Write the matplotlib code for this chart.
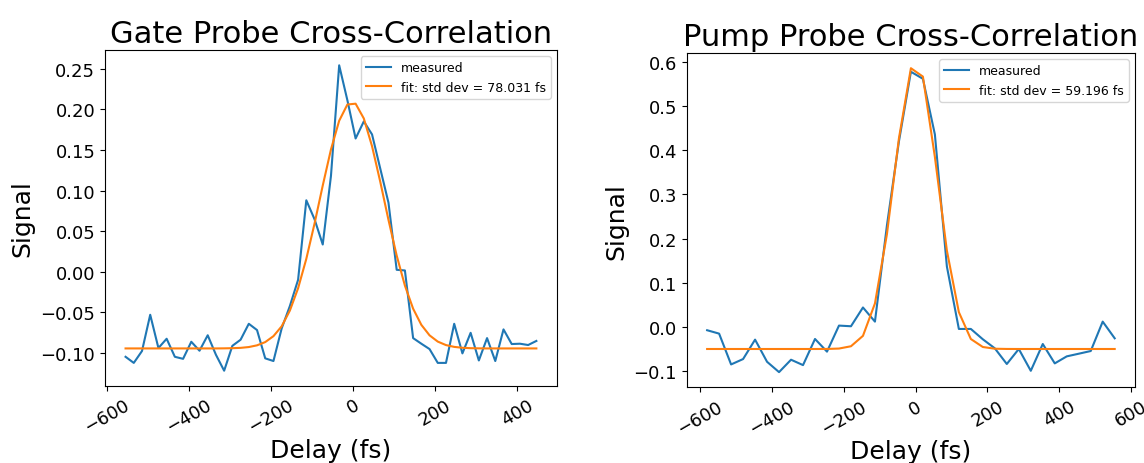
import matplotlib
matplotlib.use("Agg")
import matplotlib.pyplot as plt

# ---- Gate probe data ----
gate_delay = [-554, -534, -514, -494, -474, -454, -434, -414, -394, -374,
              -354, -334, -314, -294, -274, -254, -234, -214, -194, -174,
              -154, -134, -114, -94, -74, -54, -34, -14, 6, 26,
              46, 66, 86, 106, 126, 146, 166, 186, 206, 226,
              246, 266, 286, 306, 326, 346, 366, 386, 406, 426, 446]
gate_measured = [-0.1045, -0.112, -0.0974, -0.0528, -0.0937, -0.0823, -0.1045, -0.107, -0.086, -0.097,
                 -0.078, -0.102, -0.1216, -0.091, -0.0835, -0.0639, -0.0716, -0.1064, -0.1097, -0.0696,
                 -0.042, -0.0098, 0.088, 0.0647, 0.0336, 0.118, 0.254, 0.211, 0.164, 0.185,
                 0.169, 0.127, 0.085, 0.0025, 0.0017, -0.0815, -0.0884, -0.095, -0.112, -0.112,
                 -0.0639, -0.1003, -0.075, -0.109, -0.0815, -0.1097, -0.0708, -0.0888, -0.0884, -0.090, -0.085]
gate_fit = [-0.0942, -0.0942, -0.0942, -0.0942, -0.0942, -0.0942, -0.0942, -0.0942, -0.0942, -0.0942,
            -0.0942, -0.0942, -0.0941, -0.0939, -0.0935, -0.0925, -0.0904, -0.0864, -0.0791, -0.0670,
            -0.0476, -0.0202, 0.0160, 0.0593, 0.1061, 0.1505, 0.1858, 0.2058, 0.2068, 0.1886,
            0.1545, 0.1108, 0.0639, 0.0200, -0.0169, -0.0453, -0.0652, -0.0781, -0.0858, -0.0901,
            -0.0923, -0.0934, -0.0939, -0.0941, -0.0942, -0.0942, -0.0942, -0.0942, -0.0942, -0.0942, -0.0942]
gate_label = "fit: std dev = 78.031 fs"

# ---- Pump probe data ----
pump_delay = [-581.0, -547.6, -514.2, -480.8, -447.4, -414.0, -380.6, -347.2, -313.8, -280.4,
              -247.0, -213.6, -180.2, -146.8, -113.4, -80.0, -46.6, -13.2, 20.2, 53.6,
              87.0, 120.4, 153.8, 187.2, 220.6, 254.0, 287.4, 320.8, 354.2, 387.6,
              421.0, 454.4, 487.8, 521.2, 554.6]
pump_measured = [-0.0075, -0.0152, -0.085, -0.0728, -0.0288, -0.079, -0.1024, -0.0743, -0.0865, -0.0273,
                 -0.056, 0.003, 0.0015, 0.044, 0.012, 0.23, 0.42, 0.578, 0.562, 0.436,
                 0.137, -0.0046, -0.0046, -0.028, -0.0485, -0.084, -0.050, -0.0994, -0.0387, -0.0826,
                 -0.0667, -0.0607, -0.0546, 0.012, -0.0258]
pump_fit = [-0.0500, -0.0500, -0.0500, -0.0500, -0.0500, -0.0500, -0.0500, -0.0500, -0.0500, -0.0500,
            -0.0499, -0.0490, -0.0438, -0.0202, 0.0532, 0.2101, 0.427, 0.586, 0.567, 0.385,
            0.173, 0.0334, -0.0274, -0.0455, -0.0494, -0.0499, -0.0500, -0.0500, -0.0500, -0.0500,
            -0.0500, -0.0500, -0.0500, -0.0500, -0.0500]
pump_label = "fit: std dev = 59.196 fs"

fig = plt.figure(figsize=(11.44, 4.64), dpi=100)
ax1 = fig.add_axes([0.0918, 0.166, 0.395, 0.724])
ax2 = fig.add_axes([0.6003, 0.1631, 0.3919, 0.7205])

panels = [
    (ax1, gate_delay, gate_measured, gate_fit, gate_label, "Gate Probe Cross-Correlation"),
    (ax2, pump_delay, pump_measured, pump_fit, pump_label, "Pump Probe Cross-Correlation"),
]
for ax, x, meas, fit, lab, title in panels:
    ax.plot(x, meas, color="#1f77b4", lw=1.5, label="measured")
    ax.plot(x, fit, color="#ff7f0e", lw=1.5, label=lab)
    ax.set_title(title, fontsize=22)
    ax.set_xlabel("Delay (fs)", fontsize=18, labelpad=1.5)
    ax.set_ylabel("Signal", fontsize=18)
    ax.tick_params(axis="both", labelsize=13)
    for t in ax.get_xticklabels():
        t.set_rotation(30)
    ax.legend(loc="upper right", fontsize=9)

fig.savefig("out.png", dpi=100)
